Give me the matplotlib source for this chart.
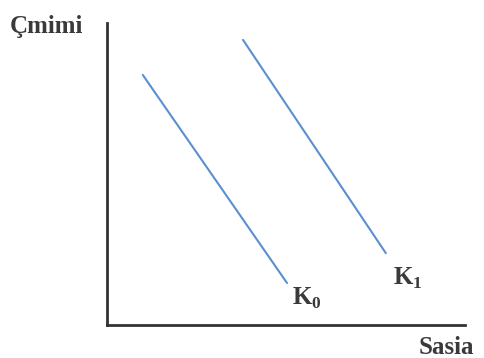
import matplotlib.pyplot as plt

# demand curves (arbitrary units)
k0_x = [1.0, 5.03]
k0_y = [8.28, 1.39]
k1_x = [3.8, 7.79]
k1_y = [9.44, 2.38]
labels = ['K$_\\mathbf{0}$', 'K$_\\mathbf{1}$']

plt.rcParams['font.family'] = 'Liberation Serif'
plt.rcParams['mathtext.fontset'] = 'custom'
plt.rcParams['mathtext.rm'] = 'Liberation Serif'
plt.rcParams['mathtext.bf'] = 'Liberation Serif:bold'

fig = plt.figure(figsize=(4.85, 3.58), dpi=100)
ax = fig.add_axes([0.2206, 0.0922, 0.738, 0.8436])
ax.set_xlim(0, 10)
ax.set_ylim(0, 10)

ax.plot(k0_x, k0_y, color='#5b8fd0', lw=1.5, solid_capstyle='round')
ax.plot(k1_x, k1_y, color='#5b8fd0', lw=1.5, solid_capstyle='round')

txt = dict(fontsize=18, fontweight='bold', color='#3a3a3a', va='baseline')
ax.text(5.17, 0.66, labels[0], **txt)
ax.text(7.99, 1.32, labels[1], **txt)

for s in ['top', 'right']:
    ax.spines[s].set_visible(False)
ax.spines['left'].set_linewidth(2)
ax.spines['bottom'].set_linewidth(2)
ax.spines['left'].set_color('#333333')
ax.spines['bottom'].set_color('#333333')
ax.set_xticks([])
ax.set_yticks([])

fig.text(10 / 485, 1 - 33 / 358, 'Çmimi', **txt)
fig.text(419 / 485, 1 - 354 / 358, 'Sasia', **txt)

plt.savefig('out.png', dpi=100)
